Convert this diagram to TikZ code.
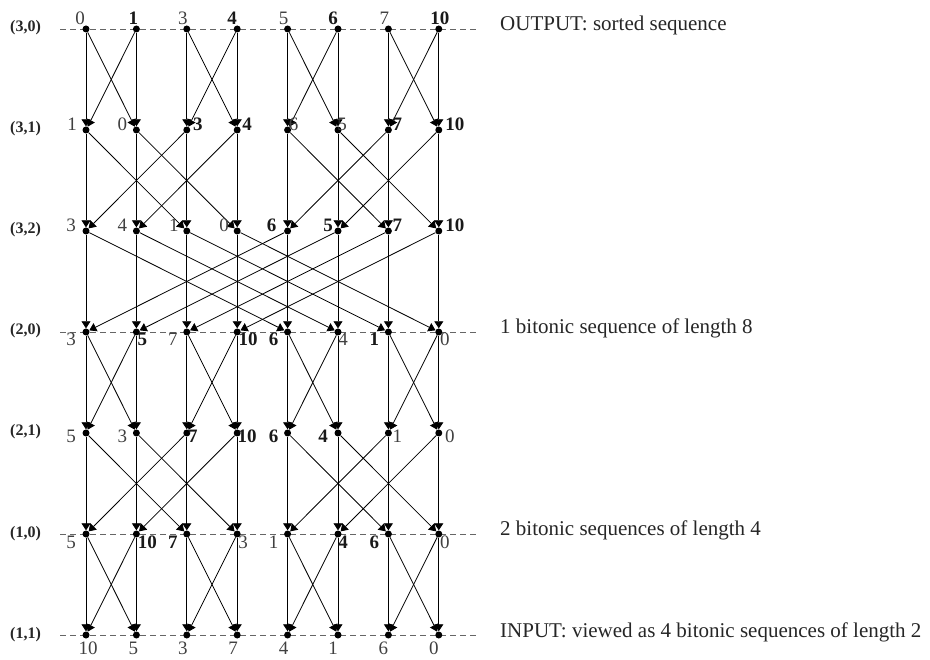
\documentclass[tikz,border=0pt]{standalone}
\usepackage{fontspec}
\setmainfont{Liberation Serif}
\usetikzlibrary{arrows.meta,positioning}

\begin{document}
\begin{tikzpicture}[
    x=1pt, y=-1pt,
    joint/.style={circle, fill=black, inner sep=0pt, minimum size=7pt},
    arrow/.style={-{Triangle[length=7pt,width=9pt]}, line width=0.8pt},
    num/.style={font=\fontsize{19}{19}\selectfont, text=black!75, inner sep=0pt, anchor=base},
    bnum/.style={num, font=\fontsize{19}{19}\selectfont\bfseries, text=black!90},
    stage/.style={font=\fontsize{16}{16}\selectfont\bfseries, text=black!85, inner sep=0pt, anchor=base west},
    note/.style={font=\fontsize{21}{21}\selectfont, text=black!85, inner sep=0pt, anchor=base west},
    guide/.style={dash pattern=on 6pt off 4pt, draw=black!60, line width=0.8pt}
]
\useasboundingbox (0,0) rectangle (930,660);

% dashed guide lines
\foreach \r in {0,3,5,6}
  \draw[guide] (60,{29+101*\r}) -- (477,{29+101*\r});

% grid of joints
\foreach \r in {0,...,6}
  \foreach \c in {0,...,7}
    \node[joint] (n\r\c) at ({86+50.4*\c},{29+101*\r}) {};

% comparator wires, straight and crossed
\foreach \r/\d in {0/1,1/2,2/4,3/1,4/2,5/1} {
  \pgfmathtruncatemacro\s{\r+1}
  \foreach \c in {0,...,7} {
    \pgfmathtruncatemacro\p{mod(floor(\c/\d),2)==0 ? \c+\d : \c-\d}
    \draw[arrow] (n\r\c) -- (n\s\c);
    \draw[arrow] (n\r\c) -- (n\s\p);
  }
}

% values at the joints
\foreach \c/\t/\dx/\st in {0/0/-6/num,1/1/-3/bnum,2/3/-4/num,3/4/-5/bnum,4/5/-4/num,5/6/-5/bnum,6/7/-4/num,7/10/1/bnum}
  \node[\st] (v0\c) at ([shift={(\dx,-4)}]n0\c.center) {\t};
\foreach \c/\t/\dx/\st in {0/1/-14/num,1/0/-14/num,2/3/11/bnum,3/4/10/bnum,4/6/6/num,5/5/4/num,6/7/9/bnum,7/10/16/bnum}
  \node[\st] (v1\c) at ([shift={(\dx,1)}]n1\c.center) {\t};
\foreach \c/\t/\dx/\st in {0/3/-15/num,1/4/-14/num,2/1/-13/num,3/0/-13/num,4/6/-16/bnum,5/5/-10/bnum,6/7/9/bnum,7/10/16/bnum}
  \node[\st] (v2\c) at ([shift={(\dx,1)}]n2\c.center) {\t};
\foreach \c/\t/\dx/\st in {0/3/-15/num,1/5/6/bnum,2/7/-14/num,3/10/11/bnum,4/6/-14/bnum,5/4/5/num,6/1/-14/bnum,7/0/6/num}
  \node[\st] (v3\c) at ([shift={(\dx,14)}]n3\c.center) {\t};
\foreach \c/\t/\dx/\st in {0/5/-15/num,1/3/-14/num,2/7/6/bnum,3/10/10/bnum,4/6/-14/bnum,5/4/-15/bnum,6/1/9/num,7/0/11/num}
  \node[\st] (v4\c) at ([shift={(\dx,10)}]n4\c.center) {\t};
\foreach \c/\t/\dx/\st in {0/5/-15/num,1/10/11/bnum,2/7/-14/bnum,3/3/6/num,4/1/-14/num,5/4/5/bnum,6/6/-14/bnum,7/0/6/num}
  \node[\st] (v5\c) at ([shift={(\dx,14)}]n5\c.center) {\t};
\foreach \c/\t/\dx/\st in {0/10/2/num,1/5/-3/num,2/3/-4/num,3/7/-4/num,4/4/-4/num,5/1/-5/num,6/6/-5/num,7/0/-5/num}
  \node[\st] (v6\c) at ([shift={(\dx,19)}]n6\c.center) {\t};

% stage names
\foreach \r/\t in {0/{(3,0)},1/{(3,1)},2/{(3,2)},3/{(2,0)},4/{(2,1)},5/{(1,0)},6/{(1,1)}}
  \node[stage] (s\r) at (10,{32+101*\r}) {\t};

% notes on the right
\node[note] (out) at (500,31) {OUTPUT: sorted sequence};
\node[note] (len8) at (500,334) {1 bitonic sequence of length 8};
\node[note] (len4) at (500,536) {2 bitonic sequences of length 4};
\node[note] (in) at (500,637) {INPUT: viewed as 4 bitonic sequences of length 2};

\end{tikzpicture}
\end{document}
